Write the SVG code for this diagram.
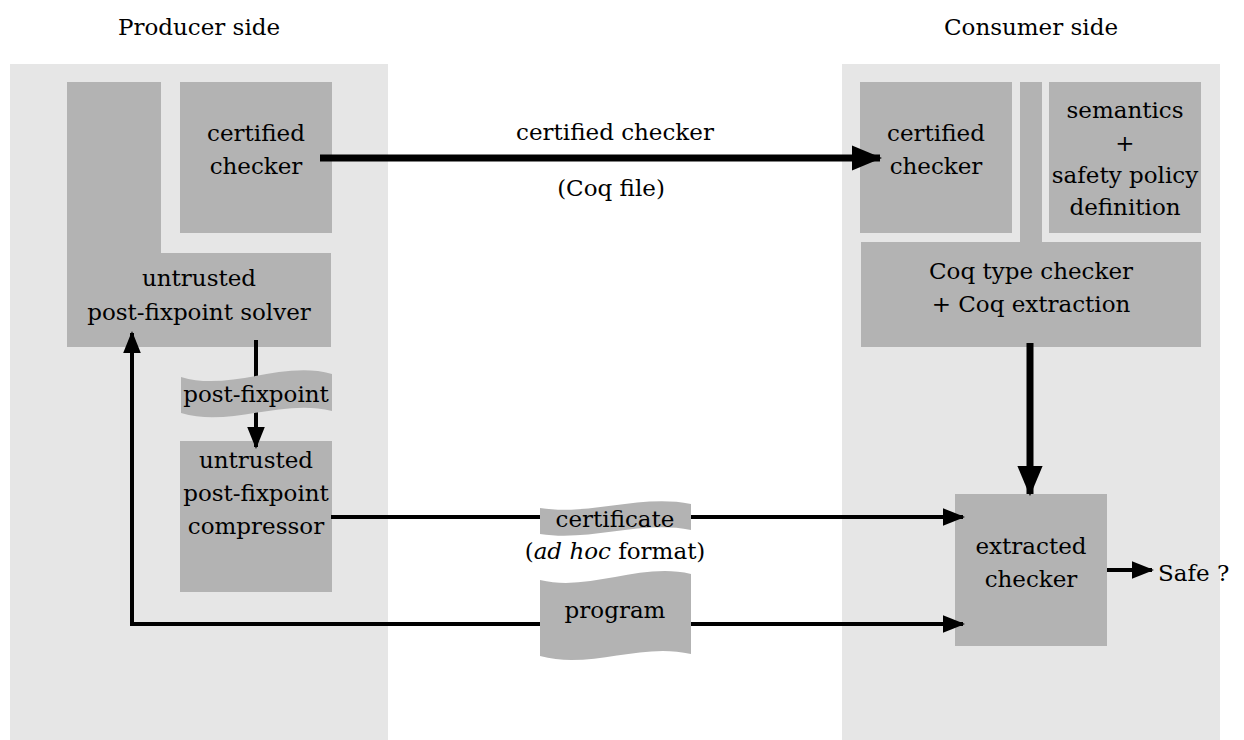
<svg xmlns="http://www.w3.org/2000/svg" width="1244" height="740" viewBox="0 0 1244 740">
<style>
.panel{fill:#e6e6e6}
.box{fill:#b3b3b3}
text{font-size:23px;fill:#000;text-anchor:middle;font-family:'DejaVu Serif', serif}
.ln{stroke:#000;stroke-width:4;fill:none}
.thick{stroke:#000;stroke-width:7;fill:none}
</style>
<defs>
<marker id="ah" markerWidth="5.5" markerHeight="4.4" refX="5" refY="2.2" orient="auto-start-reverse" markerUnits="strokeWidth"><path d="M0,0 L5.5,2.2 L0,4.4 Z" fill="#000"/></marker>
<marker id="ahT" markerWidth="4.3" markerHeight="3.6" refX="4" refY="1.8" orient="auto" markerUnits="strokeWidth"><path d="M0,0 L4.3,1.8 L0,3.6 Z" fill="#000"/></marker>
</defs>
<rect class="panel" x="10" y="64" width="378" height="676"/>
<rect class="panel" x="842" y="64" width="378" height="676"/>
<text x="199" y="35">Producer side</text>
<text x="1031" y="35">Consumer side</text>

<g id="solver"><path class="box" d="M67,82 H161 V253 H331 V347 H67 Z"/>
<text x="199" y="286">untrusted</text><text x="199" y="320">post-fixpoint solver</text></g>
<g id="cert-checker-prod"><rect class="box" x="180" y="82" width="152" height="151"/>
<text x="256" y="141">certified</text><text x="256" y="174">checker</text></g>
<g id="compressor"><rect class="box" x="180" y="441" width="152" height="151"/>
<text x="256" y="468">untrusted</text><text x="256" y="501">post-fixpoint</text><text x="256" y="534">compressor</text></g>

<g id="cert-checker-cons"><rect class="box" x="860" y="82" width="152" height="151"/>
<text x="936" y="141">certified</text><text x="936" y="174">checker</text></g>
<g id="semantics"><rect class="box" x="1049" y="82" width="152" height="151"/>
<text x="1125" y="118">semantics</text><text x="1125" y="151">+</text><text x="1125" y="183">safety policy</text><text x="1125" y="215">definition</text></g>
<g id="coq"><path class="box" d="M1020,82 H1042 V242 H1201 V347 H861 V242 H1020 Z"/>
<text x="1031" y="279">Coq type checker</text><text x="1031" y="312">+ Coq extraction</text></g>
<g id="extracted"><rect class="box" x="955" y="494" width="152" height="152"/>
<text x="1031" y="554">extracted</text><text x="1031" y="587">checker</text></g>

<g id="connectors">
<line class="thick" x1="320" y1="158" x2="880" y2="158" marker-end="url(#ahT)"/>
<line class="thick" x1="1030" y1="343" x2="1030" y2="494" marker-end="url(#ahT)"/>
<line class="ln" x1="256" y1="340" x2="256" y2="447" marker-end="url(#ah)"/>
<line class="ln" x1="331" y1="517" x2="963" y2="517" marker-end="url(#ah)"/>
<polyline class="ln" points="963,624 132,624 132,333" marker-start="url(#ah)" marker-end="url(#ah)"/>
<line class="ln" x1="1107" y1="570" x2="1152" y2="570" marker-end="url(#ah)"/>
</g>

<g id="post-fixpoint"><path class="box" d="M181,377 C230,392 282,360 332,374 L332,411 C282,398 230,428 181,413 Z"/>
<text x="256" y="402">post-fixpoint</text></g>
<g id="certificate"><path class="box" d="M540,508 C590,516 640,494 691,504 L691,530 C640,520 590,542 540,534 Z"/>
<text x="615" y="527">certificate</text></g>
<text x="615" y="559">(<tspan font-style="italic">ad hoc</tspan> format)</text>
<g id="program"><path class="box" d="M540,580 C590,592 640,562 691,574 L691,654 C640,642 590,670 540,656 Z"/>
<text x="615" y="618">program</text></g>

<text x="615" y="140">certified checker</text>
<text x="611" y="196">(Coq file)</text>
<text x="1158" y="581" style="text-anchor:start">Safe ?</text>
</svg>
